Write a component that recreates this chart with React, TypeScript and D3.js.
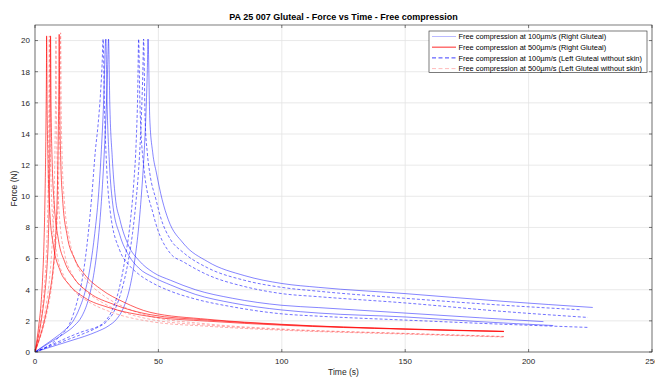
import React from "react";
import * as d3 from "d3";

type Pt = [number, number];

// ---- Data (time s, force N) ----
// Right Gluteal, 100 µm/s (solid blue)
const blueSolid1: Pt[] = [[0,0],[4,0.4],[8,0.8],[12,1.2],[16,1.7],[19,2.3],[21.5,3.3],[23.5,4.7],[25.2,6.6],[26.6,9],[27.8,12],[28.7,15],[29.3,17.5],[29.8,20.1],[30.3,16],[31.3,12.5],[32.5,10],[34.4,8.5],[38,6.8],[42,5.9],[48,5.1],[55,4.6],[65,4.0],[80,3.45],[100,3.0],[115,2.85],[150,2.5],[180,2.2],[206,1.95]];
const blueSolid2: Pt[] = [[0,0],[4,0.45],[8,0.9],[12,1.4],[15.5,2.0],[18,2.8],[20.5,4.0],[22.5,5.6],[24.2,7.6],[25.7,10],[26.9,13],[27.8,16],[28.7,20.1],[29.2,16],[30.2,12],[31.5,9.5],[34.4,7.5],[38,6.2],[42,5.4],[48,4.8],[55,4.3],[65,3.7],[80,3.15],[100,2.7],[115,2.5],[150,2.25],[180,1.95],[210,1.7]];
const blueSolid3: Pt[] = [[0,0],[5,0.25],[10,0.5],[15,0.75],[20,1.0],[25,1.3],[30,1.7],[33,2.1],[36,2.9],[38.5,4.2],[40.5,6],[42,8],[43.3,10.5],[44.3,13],[45,15.5],[45.5,18],[45.8,20.1],[46.5,15],[47.7,12.8],[49.2,11.5],[51.5,9.8],[54,8.5],[60,7],[70,5.8],[85,4.9],[100,4.4],[115,4.15],[150,3.75],[190,3.25],[226,2.86]];
// Left Gluteal without skin, 100 µm/s (dashed blue)
const blueDash1: Pt[] = [[0,0],[5,0.35],[10,1.0],[14,1.8],[17,3.2],[19.5,5],[21.5,7.5],[23,10],[24.5,13],[25.5,14.5],[26.5,16.5],[27.2,18.5],[27.6,20.1],[28.1,16],[29,12],[30.5,9],[34.4,6.5],[38,5.6],[42,5.0],[48,4.4],[55,3.9],[65,3.4],[80,2.9],[100,2.45],[115,2.3],[150,2.05],[190,1.78],[224,1.58]];
const blueDash2: Pt[] = [[0,0],[5,0.3],[10,0.6],[15,0.9],[20,1.2],[25,1.55],[29,1.95],[32,2.6],[35,3.9],[37.5,5.6],[39.5,7.6],[41,9.8],[42.3,12.5],[43.2,15.5],[43.7,18],[44,20.1],[44.6,15],[45.5,12.8],[46.5,11.5],[49,9.8],[51,8.6],[55,7.2],[60,6.4],[70,5.4],[85,4.6],[100,4.15],[115,3.9],[150,3.45],[190,3.0],[221,2.71]];
const blueDash3: Pt[] = [[0,0],[5,0.35],[10,0.7],[15,1.05],[20,1.35],[25,1.6],[28,1.9],[31,2.6],[34,4],[36.5,6],[38.5,8.2],[40,10.8],[41,13.5],[41.6,16.5],[42,20.1],[42.5,16],[44,12],[48,8.8],[55,6.3],[60,5.8],[70,4.95],[85,4.2],[100,3.75],[115,3.55],[150,3.15],[190,2.6],[224,2.22]];
// Right Gluteal, 500 µm/s (solid red)
const redSolid1: Pt[] = [[0,0],[0.8,0.8],[1.6,1.8],[2.4,3.0],[3.1,4.8],[3.6,6.8],[4.0,9.5],[4.3,12.5],[4.5,15.5],[4.65,18.5],[4.7,20.3],[4.9,16],[5.3,12],[6,9],[7.5,6.8],[10,5.3],[14,4.3],[20,3.5],[30,2.85],[46.6,2.28],[70,1.98],[100,1.72],[150,1.46],[190,1.31]];
const redSolid2: Pt[] = [[0,0],[1,0.7],[2,1.5],[3,2.5],[4,3.8],[4.8,5.3],[5.4,7.3],[5.8,10],[6.05,13.5],[6.2,17],[6.3,20.3],[6.5,16],[7,12],[7.8,9.5],[9.5,7.2],[12,5.8],[16,4.7],[22,3.8],[32,3.05],[46.6,2.4],[70,2.05],[100,1.76],[150,1.48],[190,1.33]];
const redSolid3: Pt[] = [[0,0],[1.5,0.7],[3,1.5],[4.5,2.5],[6,3.8],[7.3,5.3],[8.3,7.3],[9,10],[9.4,13.5],[9.65,17],[9.8,20.4],[10,16],[10.4,12.5],[11.2,9.8],[13,7.5],[16,6.0],[20,5.0],[27,4.0],[36,3.2],[46.6,2.55],[70,2.1],[100,1.78],[150,1.48],[190,1.32]];
// Left Gluteal without skin, 500 µm/s (dashed pink)
const redDash1: Pt[] = [[0,0],[1,0.8],[2,1.7],[3,2.9],[3.9,4.4],[4.6,6.3],[5.1,8.8],[5.45,12],[5.65,16],[5.8,20.3],[6,15],[6.5,11],[7.3,8.3],[9,6.2],[12,4.8],[16,3.9],[22,3.2],[32,2.5],[46.6,1.96],[70,1.65],[100,1.4],[150,1.15],[190,0.96]];
const redDash2: Pt[] = [[0,0],[1.5,0.8],[3,1.7],[4.4,2.9],[5.7,4.4],[6.7,6.3],[7.5,8.8],[8,12],[8.3,16],[8.5,20.2],[8.7,15],[9.2,11],[10,8.5],[12,6.3],[15,5.0],[20,4.0],[27,3.2],[36,2.55],[46.6,2.1],[70,1.72],[100,1.44],[150,1.18],[190,0.98]];
const redDash3: Pt[] = [[0,0],[1.8,0.8],[3.6,1.7],[5.3,2.9],[6.9,4.4],[8.1,6.3],[9.1,8.8],[9.7,12],[10.1,16],[10.4,20.5],[10.6,16],[11,12.5],[12,9.5],[14,7.2],[17,5.6],[21,4.6],[28,3.6],[36,2.9],[46.6,2.3],[70,1.8],[100,1.48],[150,1.2],[190,1.0]];

const xTicks = [0, 50, 100, 150, 200, 250];
const yTicks = [0, 2, 4, 6, 8, 10, 12, 14, 16, 18, 20];
const legendLabels = [
  "Free compression at 100\u00b5m/s (Right Gluteal)",
  "Free compression at 500\u00b5m/s (Right Gluteal)",
  "Free compression at 100\u00b5m/s (Left Gluteal without skin)",
  "Free compression at 500\u00b5m/s (Left Gluteal without skin)",
];

const styles = [
  { stroke: "rgba(0,0,255,0.6)", dash: undefined as string | undefined, legendStroke: "rgba(0,0,255,0.3)", lw: 0.8 },
  { stroke: "rgba(255,0,0,0.8)", dash: undefined as string | undefined, legendStroke: "rgba(255,0,0,0.65)", lw: 0.8 },
  { stroke: "rgba(0,0,255,0.7)", dash: "3,2", legendStroke: "rgba(0,0,255,0.85)", lw: 0.8 },
  { stroke: "rgba(255,0,0,0.4)", dash: "3,2", legendStroke: "rgba(255,0,0,0.3)", lw: 0.8 },
];

const groups: Pt[][][] = [
  [blueSolid1, blueSolid2, blueSolid3],
  [redSolid1, redSolid2, redSolid3],
  [blueDash1, blueDash2, blueDash3],
  [redDash1, redDash2, redDash3],
];

export default function App() {
  const W = 655, H = 378;
  const L = 35, R = 652, T = 25, B = 352;
  const x = d3.scaleLinear().domain([0, 250]).range([L, R]);
  const y = d3.scaleLinear().domain([0, 21]).range([B, T]);
  const line = d3.line<Pt>().x(d => x(d[0])).y(d => y(d[1])).curve(d3.curveMonotoneX);
  const font = "'Liberation Sans', Arial, Helvetica, sans-serif";
  const axisColor = "#262626";
  const tickLen = 3;
  return (
    <svg width={W} height={H} style={{ position: "absolute", left: 0, top: 0, background: "#fff" }} fontFamily={font}>
      <rect x={0} y={0} width={W} height={H} fill="#fff" />
      <defs>
        <clipPath id="plotclip"><rect x={L} y={T} width={R - L} height={B - T} /></clipPath>
      </defs>
      {/* grid */}
      {xTicks.map(t => (
        <line key={"gx" + t} x1={x(t)} x2={x(t)} y1={T} y2={B} stroke="#e3e3e3" strokeWidth={0.8} />
      ))}
      {yTicks.map(t => (
        <line key={"gy" + t} x1={L} x2={R} y1={y(t)} y2={y(t)} stroke="#e3e3e3" strokeWidth={0.8} />
      ))}
      {/* curves */}
      <g clipPath="url(#plotclip)">
        {groups.map((g, gi) =>
          g.map((pts, i) => (
            <path key={gi + "-" + i} d={line(pts) || ""} fill="none" stroke={styles[gi].stroke}
              strokeWidth={styles[gi].lw} strokeDasharray={styles[gi].dash} />
          ))
        )}
      </g>
      {/* axes box */}
      <rect x={L} y={T} width={R - L} height={B - T} fill="none" stroke={axisColor} strokeWidth={0.6} />
      {xTicks.map(t => (
        <g key={"xt" + t}>
          <line x1={x(t)} x2={x(t)} y1={B} y2={B - tickLen} stroke={axisColor} strokeWidth={0.6} />
          <line x1={x(t)} x2={x(t)} y1={T} y2={T + tickLen} stroke={axisColor} strokeWidth={0.6} />
          <text x={x(t)} y={B + 11.5} fontSize={8} textAnchor="middle" fill={axisColor}>{t}</text>
        </g>
      ))}
      {yTicks.map(t => (
        <g key={"yt" + t}>
          <line x1={L} x2={L + tickLen} y1={y(t)} y2={y(t)} stroke={axisColor} strokeWidth={0.6} />
          <line x1={R} x2={R - tickLen} y1={y(t)} y2={y(t)} stroke={axisColor} strokeWidth={0.6} />
          <text x={L - 5} y={y(t) + 2.8} fontSize={8} textAnchor="end" fill={axisColor}>{t}</text>
        </g>
      ))}
      {/* labels */}
      <text x={(L + R) / 2} y={20} fontSize={9} fontWeight="bold" textAnchor="middle" fill="#000">
        PA 25 007 Gluteal - Force vs Time - Free compression
      </text>
      <text x={(L + R) / 2} y={375} fontSize={8.5} textAnchor="middle" fill={axisColor}>Time (s)</text>
      <text transform={`translate(17,${(T + B) / 2}) rotate(-90)`} fontSize={8.5} textAnchor="middle" fill={axisColor}>Force (N)</text>
      {/* legend */}
      <rect x={429} y={31} width={218} height={41.5} fill="#fff" stroke={axisColor} strokeWidth={0.6} />
      {legendLabels.map((lab, i) => {
        const ly = 36.5 + i * 10.7;
        return (
          <g key={"lg" + i}>
            <line x1={432} x2={456} y1={ly} y2={ly} stroke={styles[i].legendStroke}
              strokeWidth={i === 1 ? 1.3 : 0.9} strokeDasharray={styles[i].dash ? "4,2.5" : undefined} />
            <text x={458.5} y={ly + 2.6} fontSize={7.4} fill="#000">{lab}</text>
          </g>
        );
      })}
    </svg>
  );
}
